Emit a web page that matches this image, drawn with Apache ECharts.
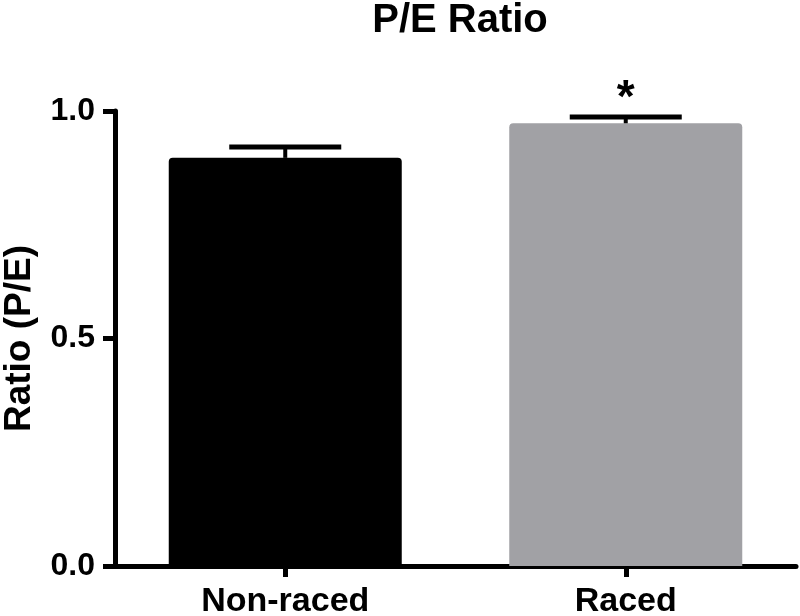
<!DOCTYPE html>
<html>
<head>
<meta charset="utf-8">
<script src="https://cdn.jsdelivr.net/npm/echarts@6/dist/echarts.min.js"></script>
<style>
html,body{margin:0;padding:0;background:#fff;}
#chart{width:800px;height:616px;}
</style>
</head>
<body>
<div id="chart"></div>
<script>
var chartTitle = 'P/E Ratio';
var yAxisName = 'Ratio (P/E)';
var categories = ['Non-raced', 'Raced'];
var values = [0.897, 0.973];
var errors = [0.024, 0.014];
var significance = ['', '*'];
var barColors = ['#000000', '#A1A1A5'];
var yTicks = [0, 0.5, 1.0];

var FONT = 'Liberation Sans, Arial, Helvetica, sans-serif';
var chart = echarts.init(document.getElementById('chart'));

var barData = values.map(function (v, i) {
  return { value: v, itemStyle: { color: barColors[i] } };
});
var errData = values.map(function (v, i) {
  return [i, v, errors[i]];
});

chart.setOption({
  animation: false,
  backgroundColor: '#ffffff',
  title: {
    text: chartTitle,
    left: 455,
    textAlign: 'center',
    top: -4,
    textStyle: { fontFamily: FONT, fontWeight: 'bold', fontSize: 40, color: '#000' }
  },
  grid: { left: 115, right: 4, top: 111, bottom: 50, containLabel: false, outerBoundsMode: 'none' },
  xAxis: {
    type: 'category',
    data: categories,
    axisLine: { show: true, lineStyle: { color: '#000', width: 5 } },
    axisTick: { show: true, alignWithLabel: true, length: 11, lineStyle: { color: '#000', width: 5 } },
    axisLabel: { margin: 19, color: '#000', fontFamily: FONT, fontWeight: 'bold', fontSize: 34 },
    splitLine: { show: false }
  },
  yAxis: {
    type: 'value',
    min: yTicks[0],
    max: yTicks[yTicks.length - 1],
    interval: yTicks[1] - yTicks[0],
    name: yAxisName,
    nameLocation: 'middle',
    nameRotate: 90,
    nameGap: 77,
    nameTextStyle: { color: '#000', fontFamily: FONT, fontWeight: 'bold', fontSize: 37 },
    axisLine: { show: true, lineStyle: { color: '#000', width: 5 } },
    axisTick: { show: true, length: 12, lineStyle: { color: '#000', width: 5 } },
    axisLabel: {
      margin: 20, color: '#000', fontFamily: FONT, fontWeight: 'bold', fontSize: 32,
      formatter: function (v) { return v.toFixed(1); }
    },
    splitLine: { show: false }
  },
  series: [
    {
      type: 'bar',
      data: barData,
      barWidth: 233,
      itemStyle: { borderRadius: [4, 4, 0, 0] },
      z: 1
    },
    {
      type: 'custom',
      z: 5,
      data: errData,
      renderItem: function (params, api) {
        var x = api.value(0);
        var v = api.value(1);
        var e = api.value(2);
        var sig = significance[params.dataIndex];
        var pBase = api.coord([x, v]);
        var pTop = api.coord([x, v + e]);
        var half = 56;
        var children = [
          { type: 'line', shape: { x1: pBase[0], y1: pBase[1], x2: pTop[0], y2: pTop[1] },
            style: { stroke: '#000', lineWidth: 4 } },
          { type: 'line', shape: { x1: pTop[0] - half, y1: pTop[1], x2: pTop[0] + half, y2: pTop[1] },
            style: { stroke: '#000', lineWidth: 5 } }
        ];
        if (sig) {
          children.push({
            type: 'text',
            style: {
              text: sig, x: pTop[0], y: pTop[1] + 5,
              align: 'center', verticalAlign: 'bottom',
              font: 'bold 46px ' + FONT, fill: '#000'
            }
          });
        }
        return { type: 'group', children: children };
      }
    }
  ]
});
</script>
</body>
</html>
